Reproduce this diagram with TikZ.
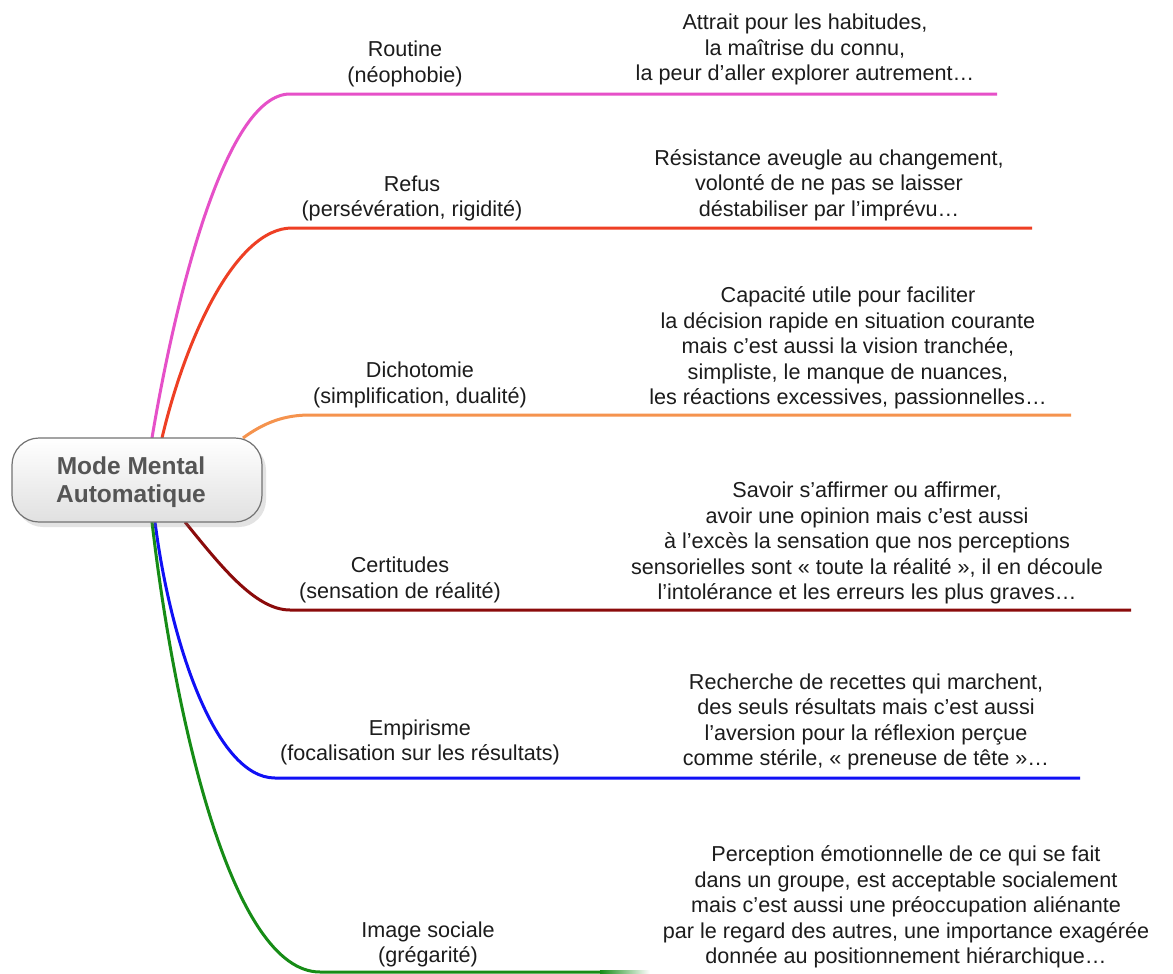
\documentclass[tikz,border=0pt]{standalone}
\usepackage{fontspec}
\setmainfont{Liberation Sans}
\usetikzlibrary{shadows}
\definecolor{cpink}{HTML}{E650C8}
\definecolor{cred}{HTML}{EE3F24}
\definecolor{corange}{HTML}{F5934E}
\definecolor{cdark}{HTML}{8B0B0B}
\definecolor{cblue}{HTML}{1010F5}
\definecolor{cgreen}{HTML}{168C16}
\definecolor{txt}{HTML}{1C1C1C}
\definecolor{ctitle}{HTML}{555555}
\begin{document}
\begin{tikzpicture}[x=1pt,y=-1pt,
  lbl/.style={align=center, inner sep=0pt, text=txt, font=\fontsize{21.6}{25.5}\selectfont},
  br/.style={line width=3pt},
  central/.style={draw=black!55, line width=1.2pt, rounded corners=27pt, minimum width=250pt, minimum height=84pt,
    top color=white, bottom color=black!12,
    drop shadow={opacity=0.22, shadow xshift=4pt, shadow yshift=-5pt}},
  title/.style={align=center, inner sep=0pt, text=ctitle, font=\fontsize{24.5}{28}\selectfont\bfseries}]
\useasboundingbox (0,0) rectangle (1173,974);
\fill[white] (0,0) rectangle (1173,974);

% branch coordinates
\coordinate (s1) at (152,438); \coordinate (h1) at (290,94);  \coordinate (e1) at (997,94);
\coordinate (s2) at (162,438); \coordinate (h2) at (292,228); \coordinate (e2) at (1032,228);
\coordinate (s3) at (243,438); \coordinate (h3) at (310,415); \coordinate (e3) at (1071,415);
\coordinate (s4) at (185,522); \coordinate (h4) at (290,610); \coordinate (e4) at (1131,610);
\coordinate (s5) at (155,522); \coordinate (h5) at (275,778); \coordinate (e5) at (1080,778);
\coordinate (s6) at (152,522); \coordinate (h6) at (320,972); \coordinate (e6) at (600,972);

\draw[br, cpink]   (s1) .. controls (175,300) and (225,94)  .. (h1) -- (e1);
\draw[br, cred]    (s2) .. controls (185,340) and (235,228) .. (h2) -- (e2);
\draw[br, corange] (s3) .. controls (265,422) and (285,415) .. (h3) -- (e3);
\draw[br, cdark]   (s4) .. controls (220,565) and (255,610) .. (h4) -- (e4);
\draw[br, cblue]   (s5) .. controls (170,640) and (215,778) .. (h5) -- (e5);
\draw[br, cgreen]  (s6) .. controls (175,720) and (232,972) .. (h6) -- (e6);
\shade[left color=cgreen, right color=white] (600,970.5) rectangle (650,973.5);

\node[central] (c) at (137,480) {};
\node[title] (ct) at (131,482) {Mode Mental\\Automatique};

\node[lbl] (l1) at (405,64)  {Routine\\(néophobie)};
\node[lbl] (d1) at (805,49.5) {Attrait pour les habitudes,\\la maîtrise du connu,\\la peur d’aller explorer autrement…};

\node[lbl] (l2) at (412,198.5) {Refus\\(persévération, rigidité)};
\node[lbl] (d2) at (829,185) {Résistance aveugle au changement,\\volonté de ne pas se laisser\\déstabiliser par l’imprévu…};

\node[lbl] (l3) at (420,385) {Dichotomie\\(simplification, dualité)};
\node[lbl] (d3) at (848,348) {Capacité utile pour faciliter\\la décision rapide en situation courante\\mais c’est aussi la vision tranchée,\\simpliste, le manque de nuances,\\les réactions excessives, passionnelles…};

\node[lbl] (l4) at (400,580) {Certitudes\\(sensation de réalité)};
\node[lbl] (d4) at (867,543) {Savoir s’affirmer ou affirmer,\\avoir une opinion mais c’est aussi\\à l’excès la sensation que nos perceptions\\sensorielles sont « toute la réalité », il en découle\\l’intolérance et les erreurs les plus graves…};

\node[lbl] (l5) at (420,742.5) {Empirisme\\(focalisation sur les résultats)};
\node[lbl] (d5) at (866,722) {Recherche de recettes qui marchent,\\des seuls résultats mais c’est aussi\\l’aversion pour la réflexion perçue\\comme stérile, « preneuse de tête »…};

\node[lbl] (l6) at (428,944.5) {Image sociale\\(grégarité)};
\node[lbl] (d6) at (906,907) {Perception émotionnelle de ce qui se fait\\dans un groupe, est acceptable socialement\\mais c’est aussi une préoccupation aliénante\\par le regard des autres, une importance exagérée\\donnée au positionnement hiérarchique…};
\end{tikzpicture}
\end{document}
